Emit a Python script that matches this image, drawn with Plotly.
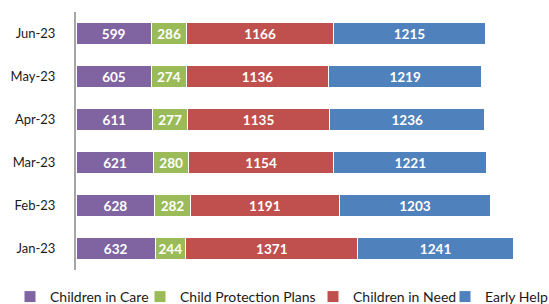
import plotly.graph_objects as go

months = ["Jan-23", "Feb-23", "Mar-23", "Apr-23", "May-23", "Jun-23"]
children_in_care = [632, 628, 621, 611, 605, 599]
child_protection = [244, 282, 280, 277, 274, 286]
children_in_need = [1371, 1191, 1154, 1135, 1136, 1166]
early_help = [1241, 1203, 1221, 1236, 1219, 1215]

series = [
    ("Children in Care", children_in_care, "#8064A2"),
    ("Child Protection Plans", child_protection, "#9BBB59"),
    ("Children in Need", children_in_need, "#C0504D"),
    ("Early Help", early_help, "#4F81BD"),
]
legend_ids = ["legend", "legend2", "legend3", "legend4"]
legend_x_px = [10, 140, 313, 445]

W, H = 549, 304
fig = go.Figure()
for (name, vals, col), lid in zip(series, legend_ids):
    fig.add_trace(go.Bar(
        y=months, x=vals, name=name, orientation="h", legend=lid,
        marker=dict(color=col, line=dict(color="white", width=1)),
        text=[str(v) for v in vals], textposition="inside",
        insidetextanchor="middle",
        textfont=dict(color="white", size=14.5, family="Lato", weight="bold"),
        cliponaxis=False,
    ))

legend_common = dict(orientation="h", xref="container", yref="container",
                     xanchor="left", yanchor="middle", y=1 - 297 / H,
                     font=dict(size=14, family="Lato", color="#1a1a1a"),
                     bgcolor="rgba(0,0,0,0)", borderwidth=0, itemwidth=30)
legends = {}
for lid, px in zip(legend_ids, legend_x_px):
    legends[lid] = dict(legend_common, x=px / W)

fig.update_layout(
    barmode="stack",
    bargap=0.49,
    width=W, height=H,
    margin=dict(l=76, r=9, t=12, b=34, autoexpand=False),
    paper_bgcolor="white", plot_bgcolor="white",
    font=dict(family="Lato", size=14, color="#1a1a1a"),
    uniformtext=dict(mode="show", minsize=8),
    showlegend=True,
    xaxis=dict(range=[0, 3700], showgrid=False, showticklabels=False, zeroline=False,
               showline=False, fixedrange=True, automargin=False),
    yaxis=dict(showline=True, linecolor="#A6A6A6", linewidth=2, ticks="",
               ticklabelstandoff=16, showgrid=False, automargin=False,
               tickfont=dict(size=13, family="Lato", color="#1a1a1a")),
    **legends,
)

fig.write_html("out.html", config={"displayModeBar": False},
               post_script="document.body.style.margin='0';")
